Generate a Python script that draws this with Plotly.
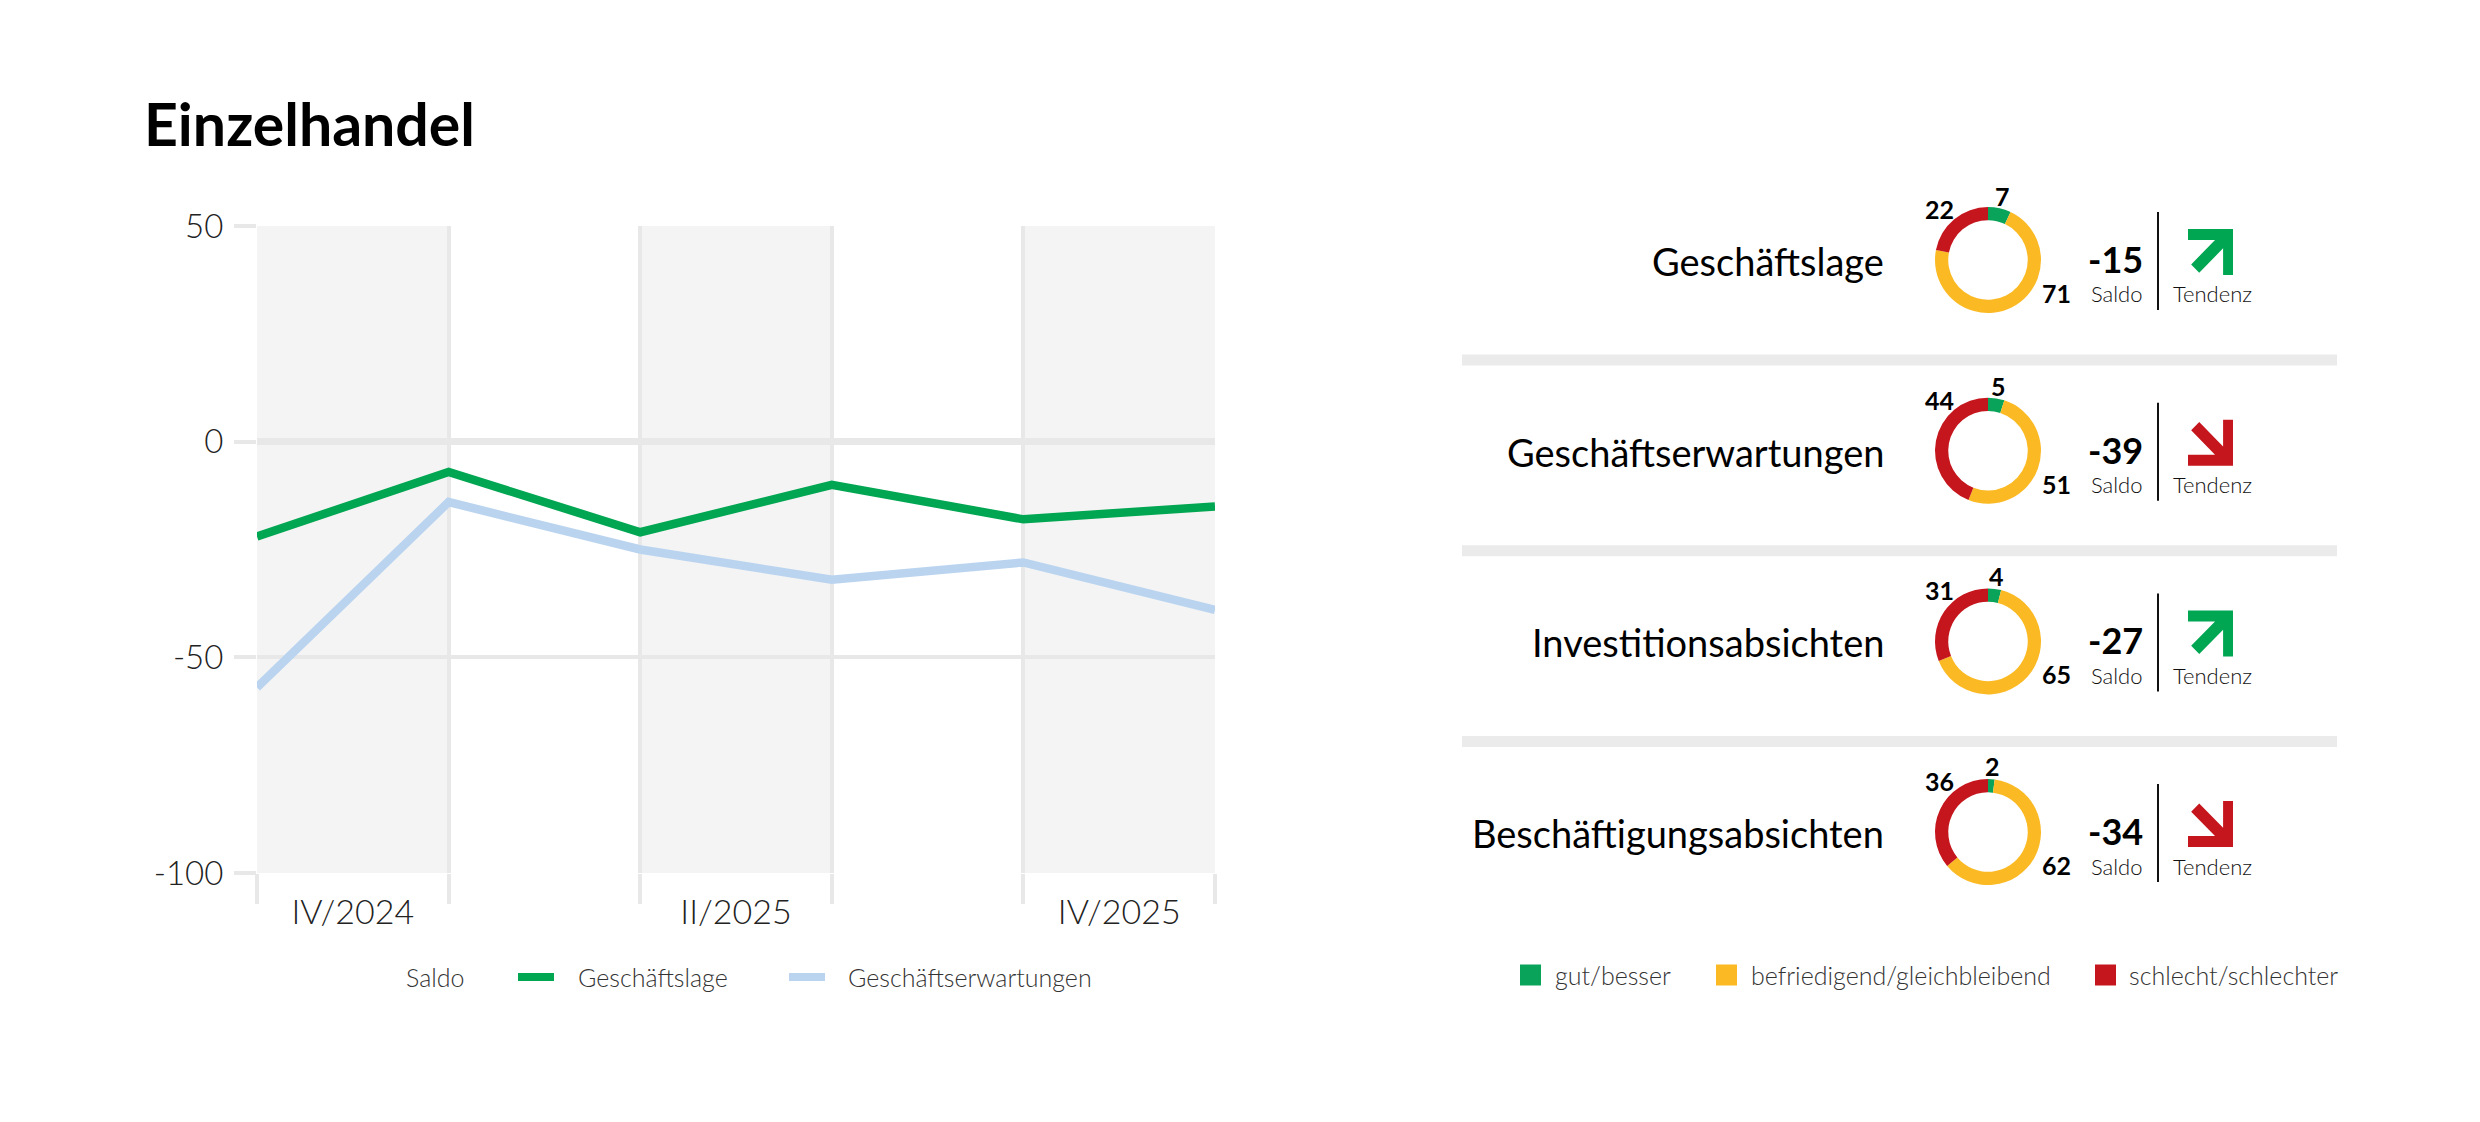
import math
import plotly.graph_objects as go

W, H = 2480, 1122

# ---------------- data ----------------
periods = [0, 1, 2, 3, 4, 5]
quarter_pos = [0.5, 2.5, 4.5]
quarter_labels = ["IV/2024", "II/2025", "IV/2025"]
lage = [-22, -7, -21, -10, -18, -15]
erwartungen = [-57, -14, -25, -32, -28, -39]
y_ticks = [50, 0, -50, -100]
y_ticktext = ["50", "0", "-50", "-100"]

indicators = ["Geschäftslage", "Geschäftserwartungen", "Investitionsabsichten", "Beschäftigungsabsichten"]
gut = [7, 5, 4, 2]
befriedigend = [71, 51, 65, 62]
schlecht = [22, 44, 31, 36]
saldo = [-15, -39, -27, -34]
tendenz = ["up", "down", "up", "down"]

legend_right = ["gut/besser", "befriedigend/gleichbleibend", "schlecht/schlechter"]

# ---------------- style ----------------
FONT = "Lato"
GREEN = "#00a651"
BLUE = "#bad4f0"
GRID = "#e8e8e8"
BAND = "#f4f4f4"
C_GUT = "#0aa35a"
C_BEF = "#fbb923"
C_SCH = "#c5161d"
DARK = "#111111"


def px(x):
    return x / W


def py(y):
    return 1 - y / H


fig = go.Figure()

# line chart
fig.add_trace(go.Scatter(x=periods, y=erwartungen, mode="lines", name="Geschäftserwartungen",
                         line=dict(color=BLUE, width=8.5), hoverinfo="skip", showlegend=False))
fig.add_trace(go.Scatter(x=periods, y=lage, mode="lines", name="Geschäftslage",
                         line=dict(color=GREEN, width=8.5), hoverinfo="skip", showlegend=False))
# invisible trace carrying the quarter labels axis
fig.add_trace(go.Scatter(x=quarter_pos, y=[None] * len(quarter_pos), xaxis="x2", yaxis="y",
                         mode="markers", hoverinfo="skip", showlegend=False))

shapes = []
annotations = []

# alternating bands
for i in periods[:-1:2]:
    shapes.append(dict(type="rect", xref="x", yref="y", x0=i, x1=i + 1, y0=y_ticks[-1], y1=y_ticks[0],
                       fillcolor=BAND, line=dict(width=0), layer="below"))

# title
annotations.append(dict(text="<b>Einzelhandel</b>", x=px(142), y=py(123), xref="paper", yref="paper",
                        xanchor="left", yanchor="middle", showarrow=False,
                        font=dict(family=FONT, size=59, color="#000", weight=900)))

# left legend
LY = 977
annotations.append(dict(text="Saldo", x=px(404), y=py(LY), xref="paper", yref="paper", xanchor="left",
                        yanchor="middle", showarrow=False, font=dict(family=FONT, size=25, color="#333", weight=300)))
for (x0, x1, tx, col, name) in [(518, 554, 576, GREEN, "Geschäftslage"), (789, 825, 846, BLUE, "Geschäftserwartungen")]:
    shapes.append(dict(type="line", xref="paper", yref="paper", x0=px(x0), x1=px(x1), y0=py(LY), y1=py(LY),
                       line=dict(color=col, width=8)))
    annotations.append(dict(text=name, x=px(tx), y=py(LY), xref="paper", yref="paper", xanchor="left",
                            yanchor="middle", showarrow=False,
                            font=dict(family=FONT, size=25, color="#333", weight=300)))

# right panel
CX = 1988
R = 53
for i, name in enumerate(indicators):
    cy = 260 + 190.7 * i
    annotations.append(dict(text=name, x=px(1886), y=py(cy + 1), xref="paper", yref="paper", xanchor="right",
                            yanchor="middle", showarrow=False, font=dict(family=FONT, size=38, color="#000")))
    fig.add_trace(go.Pie(values=[gut[i], befriedigend[i], schlecht[i]],
                         marker=dict(colors=[C_GUT, C_BEF, C_SCH], line=dict(width=0)),
                         hole=0.75, sort=False, direction="clockwise", rotation=0,
                         textinfo="none", hoverinfo="skip", showlegend=False,
                         domain=dict(x=[px(CX - R), px(CX + R)], y=[py(cy + R), py(cy - R)])))
    a = math.radians(gut[i] / 100 * 360 / 2)
    lab_font = dict(family=FONT, size=25, color="#000", weight=700)
    annotations.append(dict(text=str(gut[i]), x=px(CX + 66 * math.sin(a)), y=py(cy - 66 * math.cos(a)),
                            xref="paper", yref="paper", xanchor="center", yanchor="middle", showarrow=False,
                            font=lab_font))
    annotations.append(dict(text=str(schlecht[i]), x=px(1939), y=py(cy - 51), xref="paper", yref="paper",
                            xanchor="center", yanchor="middle", showarrow=False, font=lab_font))
    annotations.append(dict(text=str(befriedigend[i]), x=px(2056), y=py(cy + 33), xref="paper", yref="paper",
                            xanchor="center", yanchor="middle", showarrow=False, font=lab_font))
    # saldo
    annotations.append(dict(text=f"<b>{saldo[i]}</b>", x=px(2145), y=py(cy - 1), xref="paper", yref="paper",
                            xanchor="right", yanchor="middle", showarrow=False,
                            font=dict(family=FONT, size=36, color="#000", weight=700)))
    annotations.append(dict(text="Saldo", x=px(2145), y=py(cy + 34), xref="paper", yref="paper",
                            xanchor="right", yanchor="middle", showarrow=False,
                            font=dict(family=FONT, size=22, color=DARK, weight=300)))
    shapes.append(dict(type="line", xref="paper", yref="paper", x0=px(2158), x1=px(2158),
                       y0=py(cy - 48), y1=py(cy + 50), line=dict(color="#111", width=2)))
    annotations.append(dict(text="Tendenz", x=px(2171), y=py(cy + 34), xref="paper", yref="paper",
                            xanchor="left", yanchor="middle", showarrow=False,
                            font=dict(family=FONT, size=22, color=DARK, weight=300)))
    # arrow
    poly = [(0, 1), (1, 1), (1, 0), (0.78, 0), (0.78, 0.58), (0.25, 0.05), (0.07, 0.23), (0.6, 0.76), (0, 0.76)]
    bx0, bw = 2188, 45
    by_top, bh = cy - 31, 46
    pts = []
    for (ux, uy) in poly:
        if tendenz[i] == "down":
            uy = 1 - uy
        X = bx0 + ux * bw
        Y = by_top + (1 - uy) * bh
        pts.append(f"{px(X):.5f},{py(Y):.5f}")
    path = "M" + " L".join(pts) + " Z"
    col = GREEN if tendenz[i] == "up" else C_SCH
    shapes.append(dict(type="path", xref="paper", yref="paper", path=path, fillcolor=col, line=dict(width=0)))
    # separator
    if i < len(indicators) - 1:
        sy = cy + 100
        shapes.append(dict(type="rect", xref="paper", yref="paper", x0=px(1462), x1=px(2337),
                           y0=py(sy + 5.5), y1=py(sy - 5.5), fillcolor="#ebebeb", line=dict(width=0)))

# right legend
RY = 975
for (sx, tx, col, name) in [(1520, 1553, C_GUT, legend_right[0]), (1716, 1749, C_BEF, legend_right[1]),
                            (2095, 2127, C_SCH, legend_right[2])]:
    shapes.append(dict(type="rect", xref="paper", yref="paper", x0=px(sx), x1=px(sx + 21), y0=py(RY + 10.5),
                       y1=py(RY - 10.5), fillcolor=col, line=dict(width=0)))
    annotations.append(dict(text=name, x=px(tx), y=py(RY), xref="paper", yref="paper", xanchor="left",
                            yanchor="middle", showarrow=False,
                            font=dict(family=FONT, size=25, color="#333", weight=300)))

fig.update_layout(
    width=W, height=H, autosize=False,
    margin=dict(l=0, r=0, t=0, b=0, pad=0, autoexpand=False),
    paper_bgcolor="white", plot_bgcolor="white",
    showlegend=False,
    shapes=shapes, annotations=annotations,
    xaxis=dict(domain=[px(257), px(1215)], range=[periods[0], periods[-1]], tickvals=periods,
               showticklabels=False, ticks="outside", ticklen=30, tickwidth=4, tickcolor=GRID, automargin=False,
               showgrid=True, gridcolor=GRID, gridwidth=4, zeroline=False, showline=False, fixedrange=True),
    xaxis2=dict(overlaying="x", matches="x", side="bottom", anchor="y", tickvals=quarter_pos, automargin=False,
                ticktext=quarter_labels, showgrid=False, zeroline=False, showline=False, ticks="",
                ticklabelstandoff=16, tickfont=dict(family=FONT, size=34, color="#222", weight=300)),
    yaxis=dict(domain=[py(873), py(226)], range=[y_ticks[-1], y_ticks[0]], tickvals=y_ticks,
               ticktext=y_ticktext, automargin=False,
               ticks="outside", ticklen=22, tickwidth=4, tickcolor=GRID, ticklabelstandoff=4,
               showgrid=True, gridcolor=GRID, gridwidth=4,
               zeroline=True, zerolinecolor=GRID, zerolinewidth=7, showline=False,
               tickfont=dict(family=FONT, size=33, color="#222", weight=300), fixedrange=True),
)

fig.write_html("out.html", config={"displayModeBar": False},
               post_script="document.body.style.margin='0px';document.body.style.overflow='hidden';")
